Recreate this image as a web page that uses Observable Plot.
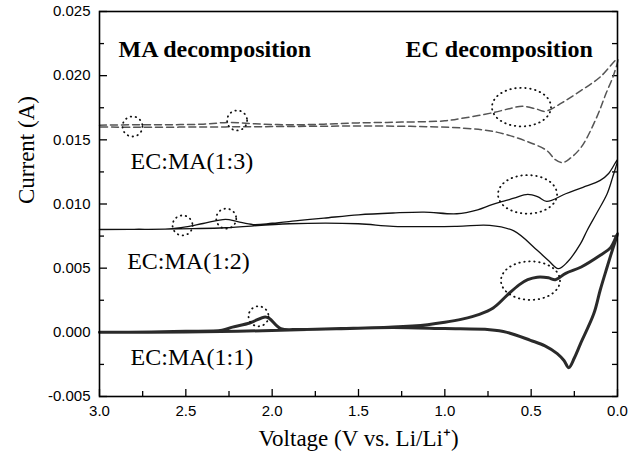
<!DOCTYPE html>
<html>
<head>
<meta charset="utf-8">
<script src="https://cdn.jsdelivr.net/npm/d3@7"></script>
<script src="https://cdn.jsdelivr.net/npm/@observablehq/plot@0.6"></script>
<style>
  html, body { margin: 0; padding: 0; background: #fff; }
</style>
</head>
<body>
<div id="chart"></div>
<script>
// ---- Data ----
// EC:MA(1:3) – dashed grey loop (voltage V, current A)
const v13 = [3.0, 2.8, 2.6, 2.4, 2.25, 2.1, 1.9, 1.7, 1.5, 1.25, 1.0, 0.89, 0.72, 0.62, 0.55, 0.47, 0.42, 0.32, 0.21, 0.1, 0.0,
             0.02, 0.07, 0.12, 0.21, 0.28, 0.32, 0.36, 0.41, 0.54, 0.70, 0.89, 1.2, 1.6, 2.0, 2.4, 2.8, 3.0];
const i13 = [0.01614, 0.01617, 0.01618, 0.01622, 0.01636, 0.01625, 0.01617, 0.01622, 0.01632, 0.01638, 0.01648, 0.01670, 0.01712, 0.01745, 0.01762, 0.01740, 0.01722, 0.01790, 0.01885, 0.01990, 0.02130,
             0.02015, 0.01850, 0.01677, 0.01443, 0.01350, 0.01322, 0.01345, 0.01417, 0.01495, 0.01560, 0.01591, 0.01605, 0.01607, 0.01603, 0.01600, 0.01598, 0.01600];

// EC:MA(1:2) – thin black loop
const v12 = [3.0, 2.8, 2.6, 2.5, 2.4, 2.27, 2.2, 2.11, 2.0, 1.84, 1.7, 1.5, 1.3, 1.12, 0.93, 0.81, 0.74, 0.68, 0.6, 0.52, 0.46, 0.41, 0.3, 0.2, 0.1, 0.05, 0.0,
             0.03, 0.06, 0.12, 0.176, 0.214, 0.29, 0.343, 0.40, 0.465, 0.6, 0.74, 0.93, 1.3, 1.5, 1.9, 2.27, 2.46, 2.7, 3.0];
const i12 = [0.00802, 0.00803, 0.00806, 0.00822, 0.00848, 0.00880, 0.00862, 0.00840, 0.00850, 0.00872, 0.00890, 0.00916, 0.00930, 0.00937, 0.00924, 0.00955, 0.00989, 0.01015, 0.01045, 0.01075, 0.01055, 0.01020, 0.01080, 0.01130, 0.01184, 0.01240, 0.01345,
             0.01200, 0.01080, 0.00930, 0.00794, 0.00691, 0.00548, 0.00496, 0.00560, 0.00639, 0.00790, 0.00833, 0.00826, 0.00826, 0.00846, 0.00846, 0.00815, 0.00808, 0.00803, 0.00800];

// EC:MA(1:1) – thick black loop
const v11 = [3.0, 2.7, 2.5, 2.29, 2.23, 2.13, 2.04, 2.015, 1.95, 1.84, 1.6, 1.3, 1.1, 1.0, 0.9, 0.8, 0.72, 0.64, 0.57, 0.52, 0.465, 0.40, 0.36, 0.3, 0.21, 0.1, 0.04, 0.0,
             0.03, 0.06, 0.1, 0.137, 0.214, 0.25, 0.282, 0.31, 0.349, 0.42, 0.504, 0.64, 0.74, 1.0, 1.3, 1.6, 1.9, 2.2, 2.5, 3.0];
const i11 = [0.0, 0.00003, 0.00008, 0.00016, 0.00041, 0.00073, 0.00120, 0.00107, 0.00029, 0.00023, 0.00028, 0.00041, 0.00060, 0.00078, 0.00103, 0.00140, 0.00190, 0.00288, 0.00370, 0.00410, 0.00430, 0.00425, 0.00410, 0.00460, 0.00509, 0.00600, 0.00660, 0.00769,
             0.00640, 0.00509, 0.00330, 0.00146, -0.00088, -0.00200, -0.00275, -0.00220, -0.00166, -0.00105, -0.00062, 0.0, 0.00020, 0.00029, 0.00038, 0.00030, 0.00018, 0.00008, 0.00002, 0.0];

// Highlighted features (dotted marks): centre voltage, centre current
const smallMarkV = [2.809, 2.203, 2.519, 2.266, 2.079];
const smallMarkI = [0.01604, 0.01651, 0.00833, 0.00886, 0.00125];
const bigMarkV = [0.556, 0.521, 0.504];
const bigMarkI = [0.01755, 0.01075, 0.00403];

// Text annotations
const seriesNames = ["EC:MA(1:3)", "EC:MA(1:2)", "EC:MA(1:1)"];
const seriesLabelV = [2.82, 2.84, 2.82];
const seriesLabelI = [0.01335, 0.00553, -0.00192];
const regionNames = ["MA decomposition", "EC decomposition"];
const regionLabelV = [2.89, 1.228];
const regionLabelI = [0.02203, 0.02202];

// Axis ticks
const xTicks = [3.0, 2.5, 2.0, 1.5, 1.0, 0.5, 0.0];
const xMinor = [2.75, 2.25, 1.75, 1.25, 0.75, 0.25];
const yTicks = [-0.005, 0.0, 0.005, 0.010, 0.015, 0.020, 0.025];
const yMinor = [-0.0025, 0.0025, 0.0075, 0.0125, 0.0175, 0.0225];

// ---- Build tables ----
const toRows = (vs, is) => vs.map((v, k) => ({v, i: is[k]}));
const s13 = toRows(v13, i13), s12 = toRows(v12, i12), s11 = toRows(v11, i11);
const smallMarks = toRows(smallMarkV, smallMarkI);
const bigMarks = toRows(bigMarkV, bigMarkI);
const seriesLabels = seriesNames.map((t, k) => ({t, v: seriesLabelV[k], i: seriesLabelI[k]}));
const regionLabels = regionNames.map((t, k) => ({t, v: regionLabelV[k], i: regionLabelI[k]}));

const W = 643, H = 462, mL = 99, mR = 26, mT = 11, mB = 66;
const fw = W - mL - mR, fh = H - mT - mB;

// ellipse symbol (wider than tall) for the large dotted marks
const ellipseSymbol = {
  draw(context, size) {
    const r = Math.sqrt(size / Math.PI);
    const rx = r * 1.53, ry = r, n = 64;
    for (let k = 0; k <= n; k++) {
      const a = (k / n) * 2 * Math.PI;
      const px = rx * Math.cos(a), py = ry * Math.sin(a);
      if (k === 0) context.moveTo(px, py); else context.lineTo(px, py);
    }
    context.closePath();
  }
};

const serif = "'Liberation Serif', 'Times New Roman', serif";
const dotted = {fill: "none", stroke: "#111", strokeWidth: 1.8, strokeDasharray: "0.5,4.5", strokeLinecap: "round"};

const chart = Plot.plot({
  width: W, height: H,
  marginLeft: mL, marginRight: mR, marginTop: mT, marginBottom: mB,
  style: {fontFamily: "'Liberation Sans', Arial, sans-serif", fontSize: "15px", background: "#fff", color: "#000"},
  x: {domain: [3, 0]},
  y: {domain: [-0.005, 0.025]},
  marks: [
    Plot.axisX({ticks: xTicks, tickSize: 0, tickPadding: 9, tickFormat: d => d.toFixed(1), label: null, fontSize: 15}),
    Plot.axisY({ticks: yTicks, tickSize: 0, tickPadding: 9, tickFormat: d => d.toFixed(3), label: null, fontSize: 15}),
    // inward ticks
    Plot.tickX(xTicks, {x: d => d, insetTop: fh - 7, stroke: "#000", strokeWidth: 1.3}),
    Plot.tickX(xMinor, {x: d => d, insetTop: fh - 5, stroke: "#000", strokeWidth: 1.3}),
    Plot.tickY(yTicks, {y: d => d, insetRight: fw - 8, stroke: "#000", strokeWidth: 1.3}),
    Plot.tickY(yMinor, {y: d => d, insetRight: fw - 5, stroke: "#000", strokeWidth: 1.3}),
    Plot.tickY(yTicks.concat(yMinor), {y: d => d, insetLeft: fw - 5, stroke: "#000", strokeWidth: 1.3}),
    // curves
    Plot.line(s13, {x: "v", y: "i", curve: "catmull-rom", stroke: "#555", strokeWidth: 1.5, strokeDasharray: "7,4"}),
    Plot.line(s12, {x: "v", y: "i", curve: "catmull-rom", stroke: "#111", strokeWidth: 1.3}),
    Plot.line(s11, {x: "v", y: "i", curve: "catmull-rom", stroke: "#2a2a2a", strokeWidth: 3}),
    // dotted highlight marks
    Plot.dot(smallMarks, {x: "v", y: "i", r: 10, ...dotted}),
    Plot.dot(bigMarks, {x: "v", y: "i", r: 19.3, symbol: ellipseSymbol, ...dotted}),
    // annotations
    Plot.text(regionLabels, {x: "v", y: "i", text: "t", textAnchor: "start", fontFamily: serif, fontSize: 24, fontWeight: "bold", fill: "#000"}),
    Plot.text(seriesLabels, {x: "v", y: "i", text: "t", textAnchor: "start", fontFamily: serif, fontSize: 24, fill: "#000"}),
    // axis titles
    Plot.text(["Voltage (V vs. Li/Li\u207A)"], {frameAnchor: "bottom", dy: 49, fontFamily: serif, fontSize: 23, fill: "#000"}),
    Plot.text(["Current (A)"], {frameAnchor: "left", dx: -73, rotate: -90, fontFamily: serif, fontSize: 23, fill: "#000"}),
    Plot.frame({stroke: "#000", strokeWidth: 1.6})
  ]
});
document.getElementById("chart").appendChild(chart);
</script>
</body>
</html>
